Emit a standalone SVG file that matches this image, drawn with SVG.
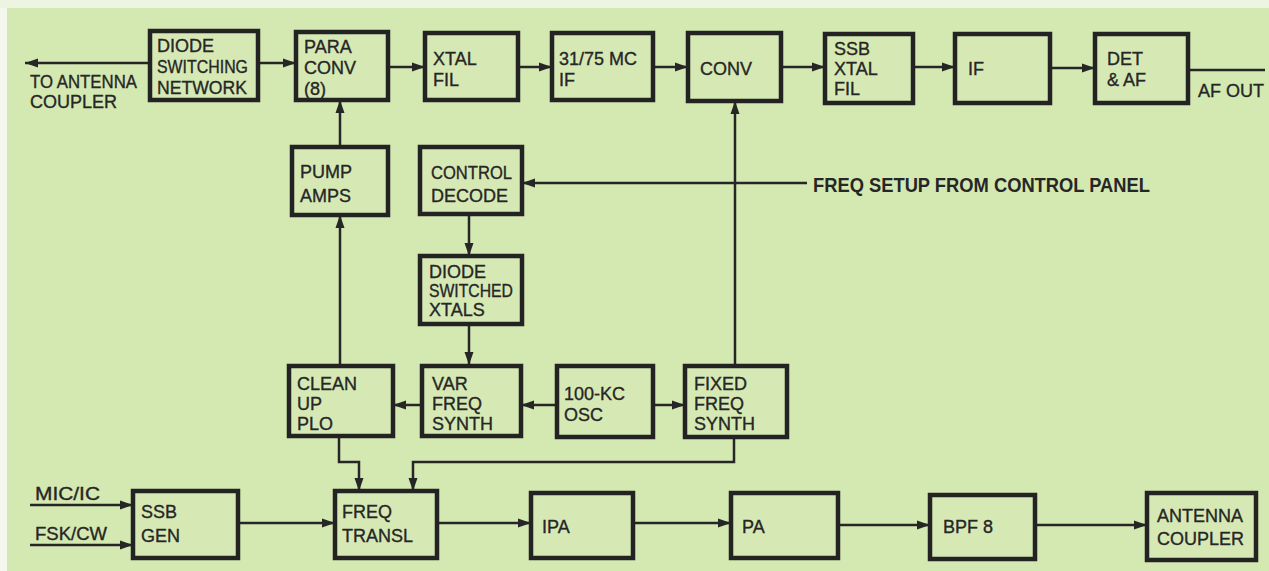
<svg xmlns="http://www.w3.org/2000/svg" width="1269" height="571" viewBox="0 0 1269 571">
<style>
.bg{fill:#d4e8b1}
.box{fill:#d6e9b5;stroke:#232323;stroke-width:4.5}
.t{font-family:"Liberation Sans",Arial,sans-serif;font-size:18px;fill:#262626;stroke:#262626;stroke-width:0.35}
.lbl{font-family:"Liberation Sans",Arial,sans-serif;font-size:18px;fill:#262626;stroke:#262626;stroke-width:0.35}
.bold{font-family:"Liberation Sans",Arial,sans-serif;font-size:20px;font-weight:bold;fill:#262626}
.c{fill:none;stroke:#262626;stroke-width:2.5}
.a{marker-end:url(#ah)}
</style>
<defs>
<marker id="ah" markerUnits="userSpaceOnUse" markerWidth="14" markerHeight="10" refX="13" refY="5" orient="auto">
<path d="M0,0.5 L13,5 L0,9.5 z" fill="#262626"/>
</marker>
</defs>
<rect class="bg" x="0" y="0" width="1269" height="571"/>
<rect x="0" y="0" width="7" height="571" fill="#f4f7ee"/>
<rect x="0" y="0" width="1269" height="8" fill="#eef4e2"/>

<g id="connectors">
<line class="c a" x1="150" y1="63" x2="25" y2="63"/>
<line class="c a" x1="258" y1="63" x2="296" y2="63"/>
<line class="c a" x1="388" y1="67" x2="425" y2="67"/>
<line class="c a" x1="518" y1="67" x2="552" y2="67"/>
<line class="c a" x1="653" y1="67" x2="688" y2="67"/>
<line class="c a" x1="781" y1="67" x2="825" y2="67"/>
<line class="c a" x1="913" y1="67" x2="955" y2="67"/>
<line class="c a" x1="1050" y1="68" x2="1095" y2="68"/>
<line class="c" x1="1188" y1="70" x2="1265" y2="70"/>
<line class="c a" x1="340" y1="147" x2="340" y2="100"/>
<line class="c a" x1="340" y1="365" x2="340" y2="215"/>
<line class="c a" x1="735" y1="366" x2="735" y2="101"/>
<line class="c a" x1="807" y1="183" x2="522" y2="183"/>
<line class="c a" x1="469" y1="214" x2="469" y2="256"/>
<line class="c a" x1="469" y1="324" x2="469" y2="365"/>
<line class="c a" x1="422" y1="405" x2="393" y2="405"/>
<line class="c a" x1="557" y1="405" x2="521" y2="405"/>
<line class="c a" x1="653" y1="405" x2="685" y2="405"/>
<polyline class="c a" points="339,436 339,462 359,462 359,491"/>
<polyline class="c a" points="734,437 734,462 413,462 413,491"/>
<line class="c a" x1="30" y1="505" x2="133" y2="505"/>
<line class="c a" x1="30" y1="545" x2="133" y2="545"/>
<line class="c a" x1="238" y1="523" x2="335" y2="523"/>
<line class="c a" x1="437" y1="523" x2="531" y2="523"/>
<line class="c a" x1="633" y1="523" x2="731" y2="523"/>
<line class="c a" x1="838" y1="525" x2="930" y2="525"/>
<line class="c a" x1="1035" y1="525" x2="1147" y2="525"/>
</g>

<g id="labels">
<text class="lbl" x="30" y="88" textLength="107" lengthAdjust="spacingAndGlyphs">TO ANTENNA</text>
<text class="lbl" x="30" y="108">COUPLER</text>
<text class="lbl" x="1198" y="97" textLength="66" lengthAdjust="spacingAndGlyphs">AF OUT</text>
<text class="bold" x="813" y="192" textLength="337" lengthAdjust="spacingAndGlyphs">FREQ SETUP FROM CONTROL PANEL</text>
<text class="lbl" x="35" y="500" textLength="65" lengthAdjust="spacingAndGlyphs">MIC/IC</text>
<text class="lbl" x="35" y="540" textLength="72" lengthAdjust="spacingAndGlyphs">FSK/CW</text>
</g>

<g id="diode-switching-network">
<rect class="box" x="150" y="31" width="108" height="69"/>
<text class="t" x="157" y="52">DIODE</text>
<text class="t" x="157" y="73" textLength="91" lengthAdjust="spacingAndGlyphs">SWITCHING</text>
<text class="t" x="157" y="94" textLength="90" lengthAdjust="spacingAndGlyphs">NETWORK</text>
</g>
<g id="para-conv">
<rect class="box" x="296" y="32" width="92" height="68"/>
<text class="t" x="304" y="53">PARA</text>
<text class="t" x="304" y="74">CONV</text>
<text class="t" x="304" y="95">(8)</text>
</g>
<g id="xtal-fil">
<rect class="box" x="425" y="33" width="93" height="67"/>
<text class="t" x="433" y="65">XTAL</text>
<text class="t" x="433" y="86">FIL</text>
</g>
<g id="if-31-75">
<rect class="box" x="552" y="33" width="101" height="67"/>
<text class="t" x="559" y="65">31/75 MC</text>
<text class="t" x="559" y="86">IF</text>
</g>
<g id="conv">
<rect class="box" x="688" y="33" width="93" height="68"/>
<text class="t" x="700" y="75">CONV</text>
</g>
<g id="ssb-xtal-fil">
<rect class="box" x="825" y="34" width="88" height="69"/>
<text class="t" x="834" y="55">SSB</text>
<text class="t" x="834" y="75">XTAL</text>
<text class="t" x="834" y="95">FIL</text>
</g>
<g id="if">
<rect class="box" x="955" y="34" width="95" height="69"/>
<text class="t" x="968" y="75">IF</text>
</g>
<g id="det-af">
<rect class="box" x="1095" y="34" width="93" height="69"/>
<text class="t" x="1107" y="65">DET</text>
<text class="t" x="1107" y="86">&amp; AF</text>
</g>

<g id="pump-amps">
<rect class="box" x="292" y="147" width="96" height="68"/>
<text class="t" x="300" y="178">PUMP</text>
<text class="t" x="300" y="202">AMPS</text>
</g>
<g id="control-decode">
<rect class="box" x="420" y="147" width="102" height="67"/>
<text class="t" x="431" y="179" textLength="81" lengthAdjust="spacingAndGlyphs">CONTROL</text>
<text class="t" x="431" y="202">DECODE</text>
</g>
<g id="diode-switched-xtals">
<rect class="box" x="420" y="256" width="102" height="68"/>
<text class="t" x="429" y="278">DIODE</text>
<text class="t" x="429" y="297" textLength="84" lengthAdjust="spacingAndGlyphs">SWITCHED</text>
<text class="t" x="429" y="316">XTALS</text>
</g>

<g id="clean-up-plo">
<rect class="box" x="289" y="366" width="104" height="70"/>
<text class="t" x="297" y="390">CLEAN</text>
<text class="t" x="297" y="410">UP</text>
<text class="t" x="297" y="430">PLO</text>
</g>
<g id="var-freq-synth">
<rect class="box" x="422" y="366" width="99" height="70"/>
<text class="t" x="432" y="390">VAR</text>
<text class="t" x="432" y="410">FREQ</text>
<text class="t" x="432" y="430">SYNTH</text>
</g>
<g id="osc-100kc">
<rect class="box" x="557" y="366" width="96" height="71"/>
<text class="t" x="564" y="400">100-KC</text>
<text class="t" x="564" y="421">OSC</text>
</g>
<g id="fixed-freq-synth">
<rect class="box" x="685" y="366" width="102" height="71"/>
<text class="t" x="694" y="390">FIXED</text>
<text class="t" x="694" y="410">FREQ</text>
<text class="t" x="694" y="430">SYNTH</text>
</g>

<g id="ssb-gen">
<rect class="box" x="133" y="491" width="105" height="67"/>
<text class="t" x="141" y="518">SSB</text>
<text class="t" x="141" y="542">GEN</text>
</g>
<g id="freq-transl">
<rect class="box" x="335" y="491" width="102" height="67"/>
<text class="t" x="342" y="518">FREQ</text>
<text class="t" x="342" y="542">TRANSL</text>
</g>
<g id="ipa">
<rect class="box" x="531" y="493" width="102" height="65"/>
<text class="t" x="542" y="533">IPA</text>
</g>
<g id="pa">
<rect class="box" x="731" y="493" width="107" height="65"/>
<text class="t" x="742" y="533">PA</text>
</g>
<g id="bpf-8">
<rect class="box" x="930" y="495" width="105" height="64"/>
<text class="t" x="943" y="533">BPF 8</text>
</g>
<g id="antenna-coupler">
<rect class="box" x="1147" y="493" width="109" height="67"/>
<text class="t" x="1157" y="522">ANTENNA</text>
<text class="t" x="1157" y="545">COUPLER</text>
</g>
</svg>
